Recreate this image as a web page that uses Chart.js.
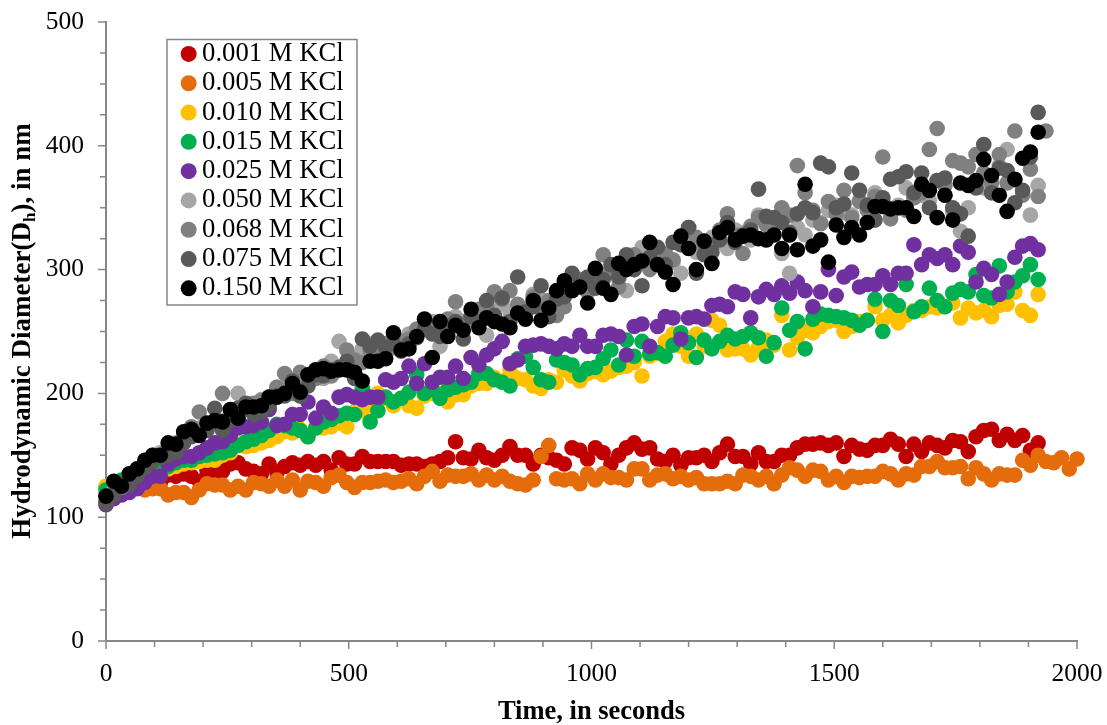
<!DOCTYPE html>
<html>
<head>
<meta charset="utf-8">
<title>Hydrodynamic diameter vs time</title>
<script src="https://cdn.jsdelivr.net/npm/chart.js@4/dist/chart.umd.min.js"></script>
<style>
html, body { margin: 0; padding: 0; background: #fff; }
canvas { display: block; }
</style>
</head>
<body>
<canvas id="chart" width="1107" height="725"></canvas>
<script>
// Time in seconds, one reading every 16 s
const times = [0,16,32,48,64,80,96,112,128,144,160,176,192,208,224,240,256,272,288,304,320,336,352,368,384,400,416,432,448,464,480,496,512,528,544,560,576,592,608,624,640,656,672,688,704,720,736,752,768,784,800,816,832,848,864,880,896,912,928,944,960,976,992,1008,1024,1040,1056,1072,1088,1104,1120,1136,1152,1168,1184,1200,1216,1232,1248,1264,1280,1296,1312,1328,1344,1360,1376,1392,1408,1424,1440,1456,1472,1488,1504,1520,1536,1552,1568,1584,1600,1616,1632,1648,1664,1680,1696,1712,1728,1744,1760,1776,1792,1808,1824,1840,1856,1872,1888,1904,1920,1936,1952,1968,1984,2000];

// Values, in nm
const kcl001 = [118,122,124,126,127,128,130,128,134,133,135,133,129,138,135,137,143,144,139,137,135,143,136,141,144,142,145,142,145,138,148,143,143,149,145,145,145,145,142,143,143,141,143,145,148,161,148,147,154,148,146,150,157,150,150,143,150,148,146,143,156,154,147,156,152,143,150,156,160,155,156,147,145,150,142,148,148,150,145,152,159,149,149,143,152,145,145,150,150,156,159,159,160,158,160,149,158,155,154,158,158,163,159,149,159,153,160,158,156,162,161,153,165,170,171,162,167,162,166,154,160];
const kcl005 = [124,125,124,125,124,122,123,123,118,120,120,116,122,127,126,126,122,125,122,128,127,125,130,125,130,122,129,128,125,132,134,128,124,128,128,129,130,128,129,131,127,133,137,129,134,133,133,135,130,134,130,133,129,127,126,130,149,158,131,130,131,127,135,130,135,132,132,130,139,139,130,134,135,131,133,130,132,127,127,127,129,127,134,133,130,133,127,134,140,138,133,138,137,130,133,128,133,132,133,133,137,135,130,135,134,141,141,145,140,140,141,131,140,135,130,135,134,134,146,142,150,145,144,148,139,147];
const kcl010 = [125,126,127,128,131,133,136,137,139,141,143,144,145,146,146,150,152,159,157,158,160,162,165,169,168,171,165,172,172,173,176,173,185,186,190,200,196,190,196,190,188,198,200,200,193,199,199,206,208,208,213,210,219,212,211,206,204,211,209,219,214,210,216,218,215,218,221,222,225,214,230,232,242,248,238,230,248,238,259,255,235,236,236,231,237,243,239,263,235,245,251,249,254,258,259,250,254,258,259,270,259,263,257,263,267,267,270,269,270,273,261,269,265,267,262,271,272,282,267,263,280];
const kcl015 = [122,126,130,132,134,136,138,141,141,144,146,146,149,150,151,152,154,158,161,163,166,170,175,174,172,170,165,172,177,179,182,184,183,204,177,186,197,193,196,201,215,200,203,196,203,205,207,209,216,216,211,209,206,228,230,221,211,209,227,225,223,215,220,221,228,235,223,243,230,242,232,233,230,239,249,241,229,243,236,242,247,244,246,249,245,230,241,269,251,258,236,260,264,263,262,261,259,255,259,276,250,275,271,288,266,270,285,275,270,281,284,282,296,279,277,303,282,290,295,304,292];
const kcl025 = [110,115,118,120,123,128,133,133,143,147,149,149,152,156,160,161,166,172,173,174,177,187,174,175,183,183,193,180,189,184,197,199,197,195,197,197,211,209,212,222,208,224,209,213,213,222,212,229,223,231,236,242,224,227,238,239,240,238,236,240,238,247,238,238,247,248,246,231,254,256,238,254,262,261,244,261,262,260,271,272,270,282,280,261,278,284,280,287,281,290,283,270,282,300,279,294,298,286,288,288,295,288,297,297,320,304,312,309,312,304,319,314,290,301,296,280,290,310,319,321,316];
const kcl050 = [112,122,126,132,139,143,150,152,155,160,166,170,172,172,176,178,182,200,190,188,195,196,205,205,210,206,214,218,212,226,242,225,229,236,240,238,240,246,238,248,250,252,258,238,256,262,258,260,262,247,270,272,266,270,265,280,276,272,282,284,285,292,290,288,296,300,292,283,300,318,302,312,310,306,297,322,314,322,326,322,317,332,330,324,344,338,336,313,297,334,328,340,338,348,352,346,344,356,352,362,356,345,352,366,358,360,356,372,360,347,331,350,368,366,372,384,397,372,362,344,368];
const kcl068 = [113,120,124,130,136,142,147,150,154,158,164,173,185,175,176,200,182,188,187,192,194,197,205,216,200,217,210,212,222,214,220,235,227,225,235,232,240,237,242,244,252,256,254,250,260,274,256,262,268,270,282,276,283,272,268,278,270,275,263,270,288,292,282,296,312,298,286,302,312,306,300,316,313,308,322,334,326,318,320,332,345,328,313,335,342,336,340,350,344,384,362,348,337,355,345,364,342,355,348,359,391,341,350,348,358,362,397,414,368,388,386,383,393,378,370,393,370,412,360,381,359,412];
const kcl075 = [111,118,127,126,133,140,145,148,150,152,160,165,167,170,188,170,178,188,192,183,185,190,198,198,210,198,206,215,214,219,221,226,212,244,238,243,237,240,234,240,245,252,248,246,250,258,244,262,258,275,263,277,258,294,266,270,287,262,276,278,297,288,294,285,292,304,294,312,300,287,310,318,304,322,320,334,297,312,314,324,338,322,328,332,365,343,342,338,330,345,350,346,386,383,350,353,378,364,352,340,358,373,375,379,362,378,350,372,374,350,345,327,366,401,362,382,380,354,364,391,427];
const kcl150 = [117,129,125,135,139,146,150,150,160,159,169,171,166,176,178,177,187,180,189,189,190,197,197,200,208,201,215,219,220,218,219,219,217,210,226,226,228,249,235,236,246,260,229,258,246,255,251,268,253,261,258,256,253,265,260,275,259,269,283,291,283,286,273,301,285,280,305,300,304,307,322,304,298,288,327,317,300,323,305,330,334,324,327,328,325,324,328,317,328,316,369,319,324,306,336,326,334,328,338,351,351,349,350,350,343,369,364,342,360,340,370,368,372,389,376,360,347,373,390,395,411];

const seriesNames = ['0.001 M KCl','0.005 M KCl','0.010 M KCl','0.015 M KCl','0.025 M KCl','0.050 M KCl','0.068 M KCl','0.075 M KCl','0.150 M KCl'];
const seriesValues = [kcl001,kcl005,kcl010,kcl015,kcl025,kcl050,kcl068,kcl075,kcl150];
const seriesColors = ['#C00000','#E46C0A','#FFC000','#00B050','#7030A0','#A6A6A6','#808080','#595959','#000000'];

const FONT = '"Liberation Serif", "Times New Roman", serif';
const AXIS = '#868686';

// Ticks have two lengths, Chart.js only gives one per scale
const axisTicks = {
    id: 'axisTicks',
    beforeDatasetsDraw(chart) {
        const { ctx, scales } = chart;
        ctx.save();
        ctx.strokeStyle = AXIS;
        ctx.lineWidth = 1.5;
        ctx.beginPath();
        scales.x.ticks.forEach(t => {
            const px = scales.x.getPixelForValue(t.value);
            const len = t.value % 500 === 0 ? 8 : 6;
            ctx.moveTo(px, scales.x.top);
            ctx.lineTo(px, scales.x.top + len);
        });
        scales.y.ticks.forEach(t => {
            const py = scales.y.getPixelForValue(t.value);
            const len = t.value % 100 === 0 ? 8 : 6;
            ctx.moveTo(scales.y.right, py);
            ctx.lineTo(scales.y.right - len, py);
        });
        ctx.stroke();
        ctx.restore();
    }
};

// Legend sits inside the plot, with a thin box round it
const legendBox = {
    id: 'legendBox',
    afterLayout(chart) {
        const lg = chart.legend;
        lg.left = 186;
        lg.right = 360;
        lg.top = 38;
        lg.bottom = 320;
        lg.draw = function () { this._draw(); };
    },
    beforeDatasetsDraw(chart) {
        const { ctx } = chart;
        ctx.save();
        ctx.strokeStyle = AXIS;
        ctx.lineWidth = 1.5;
        ctx.strokeRect(167, 39.5, 190, 265.5);
        ctx.restore();
    }
};

// Y title needs a subscript h, so it is written in pieces
const yTitle = {
    id: 'yTitle',
    afterDraw(chart) {
        const { ctx } = chart;
        ctx.save();
        ctx.translate(30, 331);
        ctx.rotate(-Math.PI / 2);
        ctx.fillStyle = '#000';
        ctx.textBaseline = 'alphabetic';
        const big = 'bold 27px ' + FONT;
        const small = 'bold 17px ' + FONT;
        const parts = [['Hydrodynamic Diameter(D', big, 0], ['h', small, 5], ['), in nm', big, 0]];
        let total = 0;
        parts.forEach(p => { ctx.font = p[1]; total += ctx.measureText(p[0]).width; });
        let x = -total / 2;
        parts.forEach(p => {
            ctx.font = p[1];
            ctx.fillText(p[0], x, p[2]);
            x += ctx.measureText(p[0]).width;
        });
        ctx.restore();
    }
};

// Chart.js paints the lowest order last, black has to end on top
const datasets = seriesNames.map((name, s) => ({
    label: name,
    data: seriesValues[s].map((v, i) => ({ x: times[i], y: v })),
    order: seriesNames.length - s,
    backgroundColor: seriesColors[s],
    borderColor: seriesColors[s],
    borderWidth: 0,
    pointRadius: 7.8,
    pointHoverRadius: 7.8,
    pointStyle: 'circle',
    showLine: false,
    clip: false
}));

new Chart(document.getElementById('chart').getContext('2d'), {
    type: 'scatter',
    data: { datasets },
    plugins: [axisTicks, legendBox, yTitle],
    options: {
        responsive: false,
        animation: false,
        events: [],
        layout: { padding: { top: 22, right: 30, left: 0, bottom: 0 } },
        scales: {
            x: {
                type: 'linear',
                min: 0,
                max: 2000,
                afterFit(scale) {
                    scale.height = 84;
                    scale.paddingLeft = 0;
                    scale.paddingRight = 0;
                },
                grid: { display: false, drawTicks: false },
                border: { color: AXIS, width: 2 },
                ticks: {
                    stepSize: 100,
                    autoSkip: false,
                    maxRotation: 0,
                    padding: 18,
                    color: '#000',
                    font: { family: FONT, size: 25.5 },
                    callback: v => (v % 500 === 0 ? String(v) : '')
                },
                title: {
                    display: true,
                    text: 'Time, in seconds',
                    color: '#000',
                    font: { family: FONT, size: 26.5, weight: 'bold' },
                    padding: { top: 0, bottom: -3 }
                }
            },
            y: {
                type: 'linear',
                min: 0,
                max: 500,
                afterFit(scale) {
                    scale.width = 106;
                    scale.paddingTop = 0;
                    scale.paddingBottom = 0;
                },
                grid: { display: false, drawTicks: false },
                border: { color: AXIS, width: 2 },
                ticks: {
                    stepSize: 25,
                    autoSkip: false,
                    padding: 22,
                    color: '#000',
                    font: { family: FONT, size: 25.5 },
                    callback: v => (v % 100 === 0 ? String(v) : '')
                }
            }
        },
        plugins: {
            tooltip: { enabled: false },
            title: { display: false },
            legend: {
                display: true,
                position: 'chartArea',
                align: 'start',
                labels: {
                    usePointStyle: true,
                    boxWidth: 0.1,
                    boxHeight: 11.3,
                    padding: 2.6,
                    color: '#000',
                    font: { family: FONT, size: 26.7 },
                    sort: (a, b) => a.datasetIndex - b.datasetIndex
                }
            }
        }
    }
});
</script>
</body>
</html>
